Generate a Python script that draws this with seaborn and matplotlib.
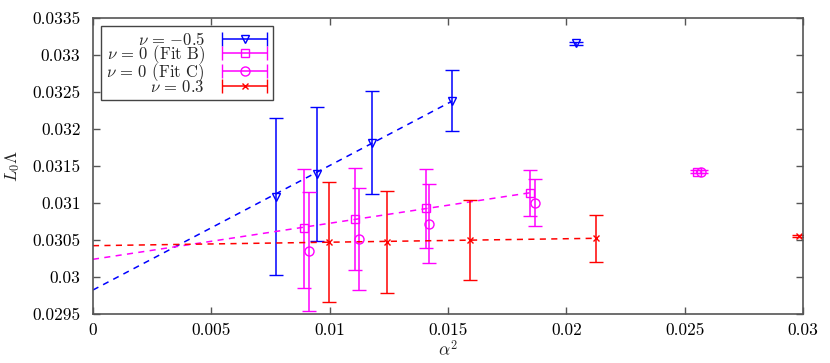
import numpy as np
import pandas as pd
import seaborn as sns
import matplotlib.pyplot as plt
from matplotlib.ticker import FormatStrFormatter, MultipleLocator
from matplotlib.legend_handler import HandlerErrorbar
from matplotlib.container import ErrorbarContainer

# alpha^2, L0*Lambda and its error
x_m05 = [0.00773, 0.00945, 0.01179, 0.01517, 0.02042]
y_m05 = [0.031085, 0.031392, 0.031815, 0.032383, 0.033158]
e_m05 = [0.00106, 0.00090, 0.00070, 0.00041, 0.00002]

x_fitb = [0.00892, 0.01105, 0.01406, 0.01846, 0.02553]
y_fitb = [0.030658, 0.030780, 0.030928, 0.031139, 0.031423]
e_fitb = [0.00080, 0.00069, 0.00053, 0.00031, 0.00002]

x_fitc = [0.00911, 0.01122, 0.01421, 0.01866, 0.02570]
y_fitc = [0.030347, 0.030510, 0.030720, 0.031004, 0.031423]
e_fitc = [0.00080, 0.00069, 0.00053, 0.00032, 0.00002]

x_03 = [0.00997, 0.01242, 0.01592, 0.02125, 0.02982]
y_03 = [0.030469, 0.030473, 0.030496, 0.030523, 0.030554]
e_03 = [0.00081, 0.00069, 0.00054, 0.00032, 0.00001]

# linear fits (intercept, slope), drawn from 0 up to the 4th point
fit_m05 = (0.029824, 0.1682)
fit_b = (0.030239, 0.0487)
fit_03 = (0.030423, 0.0047)

labels = [r"$\nu\,=\,{-0.5}$", r"$\nu\,=\,0$ (Fit B)", r"$\nu\,=\,0$ (Fit C)", r"$\nu\,=\,0.3$"]

sns.set_style("ticks")
plt.rcParams.update({
    "font.family": "serif",
    "font.serif": ["cmr10"],
    "mathtext.fontset": "cm",
    "axes.formatter.use_mathtext": True,
    "font.size": 12.5,
    "axes.edgecolor": "#555555",
    "xtick.color": "#555555",
    "ytick.color": "#555555",
    "xtick.labelcolor": "black",
    "ytick.labelcolor": "black",
})

fig = plt.figure(figsize=(8.3, 3.63), dpi=100)
ax = fig.add_axes([0.112, 0.135, 0.8555, 0.8155])

series = [
    (x_m05, y_m05, e_m05, "#0000ff", "v", 5.5, fit_m05),
    (x_fitb, y_fitb, e_fitb, "#ff00ff", "s", 6.0, fit_b),
    (x_fitc, y_fitc, e_fitc, "#ff00ff", "o", 6.5, None),
    (x_03, y_03, e_03, "#ff0000", "x", 5.0, fit_03),
]

handles = []
for (xs, ys, es, col, mk, msz, fit), lab in zip(series, labels):
    if fit is not None:
        xf = np.array([0.0, xs[3]])
        fit_df = pd.DataFrame({"x": xf, "y": fit[0] + fit[1] * xf})
        sns.lineplot(data=fit_df, x="x", y="y", color=col, ax=ax, lw=1.1,
                     linestyle=(0, (4, 3.5)))
    h = ax.errorbar(xs, ys, yerr=es, fmt=mk, color=col, mfc="none", mec=col,
                    ms=msz, mew=1.0, elinewidth=1.1, capsize=5, capthick=1.1,
                    label=lab)
    # gnuplot style key: horizontal bar with caps
    h.has_xerr = True
    h.has_yerr = False
    handles.append(h)

ax.set_xlim(0, 0.03)
ax.set_ylim(0.0295, 0.0335)
ax.xaxis.set_major_locator(MultipleLocator(0.005))
ax.yaxis.set_major_locator(MultipleLocator(0.0005))
ax.xaxis.set_major_formatter(FormatStrFormatter("%g"))
ax.yaxis.set_major_formatter(FormatStrFormatter("%g"))
ax.tick_params(direction="in", length=5, width=1, top=True, right=True)
ax.tick_params(axis="y", pad=9)
ax.tick_params(axis="x", pad=6)
for s in ax.spines.values():
    s.set_linewidth(1.2)

ax.set_xlabel(r"$\alpha^2$", labelpad=1)
ax.set_ylabel(r"$L_0\Lambda$", labelpad=7)

leg = ax.legend(handles, labels, loc="upper left", markerfirst=False,
                handler_map={ErrorbarContainer: HandlerErrorbar(xerr_size=1.35)},
                handlelength=2.8, labelspacing=-0.3, borderaxespad=0.5,
                fancybox=False, framealpha=1, edgecolor="#444444",
                handletextpad=1.0, borderpad=0.3, fontsize=12)
leg.get_frame().set_linewidth(1.0)

fig.savefig("out.png", dpi=100)
